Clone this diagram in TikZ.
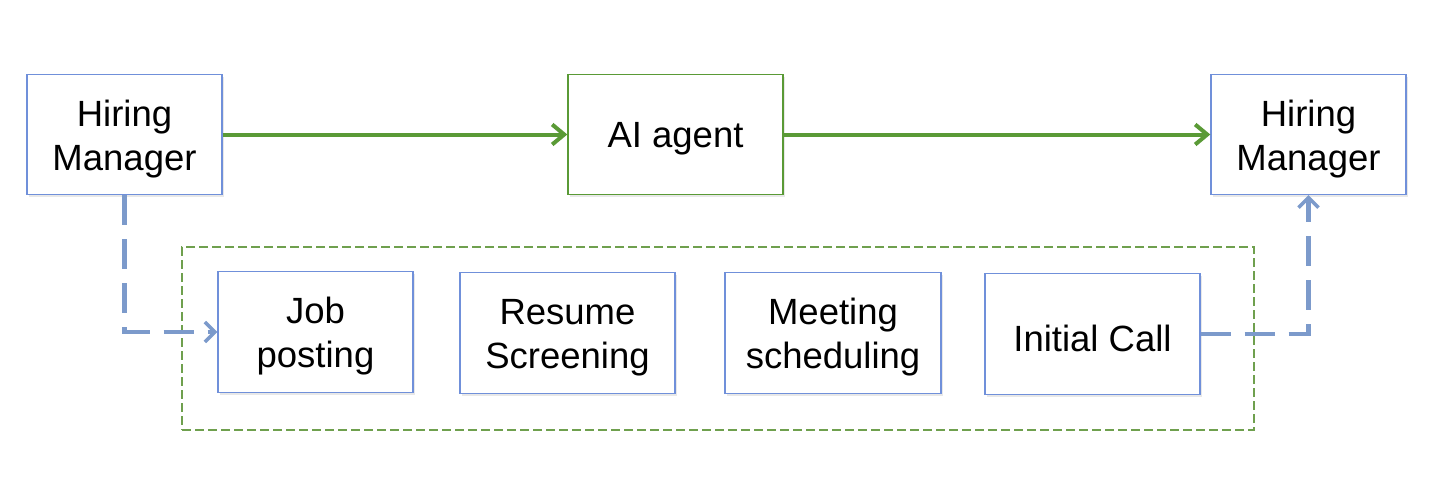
\documentclass[tikz,border=0pt]{standalone}
\usepackage{fontspec}
\setmainfont{Liberation Sans}
\usetikzlibrary{arrows.meta,shadows}
\definecolor{boxblue}{HTML}{7090DA}
\definecolor{linkblue}{HTML}{7C9ACB}
\definecolor{flowgreen}{HTML}{5A9A36}
\definecolor{grpgreen}{HTML}{6FA04E}
\tikzset{
  boxtext/.style={align=center, inner sep=0pt, yshift=-4.5pt, font=\fontsize{36.5}{44}\selectfont},
  procbox/.style={draw=boxblue, line width=1.4pt, fill=white, minimum width=195pt, minimum height=120pt, inner sep=0pt,
    drop shadow={opacity=0.18, shadow xshift=1.5pt, shadow yshift=-2pt},
    label={[boxtext]center:{#1}}},
  agentbox/.style={procbox={#1}, draw=flowgreen, minimum width=215pt},
  taskbox/.style={procbox={#1}, minimum height=121pt},
  flowarrow/.style={draw=flowgreen, line width=4pt, -{Straight Barb[length=12pt,width=20pt,line width=4pt]}},
  linkarrow/.style={draw=linkblue, line width=4.5pt, dash pattern=on 30pt off 14pt, -{Straight Barb[length=10pt,width=20pt,line width=3.5pt]}},
  groupbox/.style={draw=grpgreen, line width=1.2pt, dash pattern=on 9pt off 4pt}
}
\begin{document}
\begin{tikzpicture}[x=1pt,y=-1pt]
\useasboundingbox (0,0) rectangle (1431,482);
\node[groupbox, minimum width=1072pt, minimum height=183pt, inner sep=0pt] (grp) at (718,338.5) {};
\node[procbox={Hiring\\Manager}] (hm1) at (124.5,134.5) {};
\node[agentbox={AI agent}] (ai) at (675.5,134.5) {};
\node[procbox={Hiring\\Manager}] (hm2) at (1308.5,134.5) {};
\node[taskbox={Job\\posting}] (job) at (315.5,332) {};
\node[taskbox={Resume\\Screening}, minimum width=215pt] (res) at (567.5,333) {};
\node[taskbox={Meeting\\scheduling}, minimum width=216pt] (meet) at (833,333) {};
\node[taskbox={Initial Call}, minimum width=215pt] (call) at (1092.5,334) {};
\draw[flowarrow] (hm1) -- (ai);
\draw[flowarrow] (ai) -- (hm2);
\draw[linkarrow] (hm1.south) |- (job.west);
\draw[linkarrow] (call.east) -| (hm2.south);
\end{tikzpicture}
\end{document}
